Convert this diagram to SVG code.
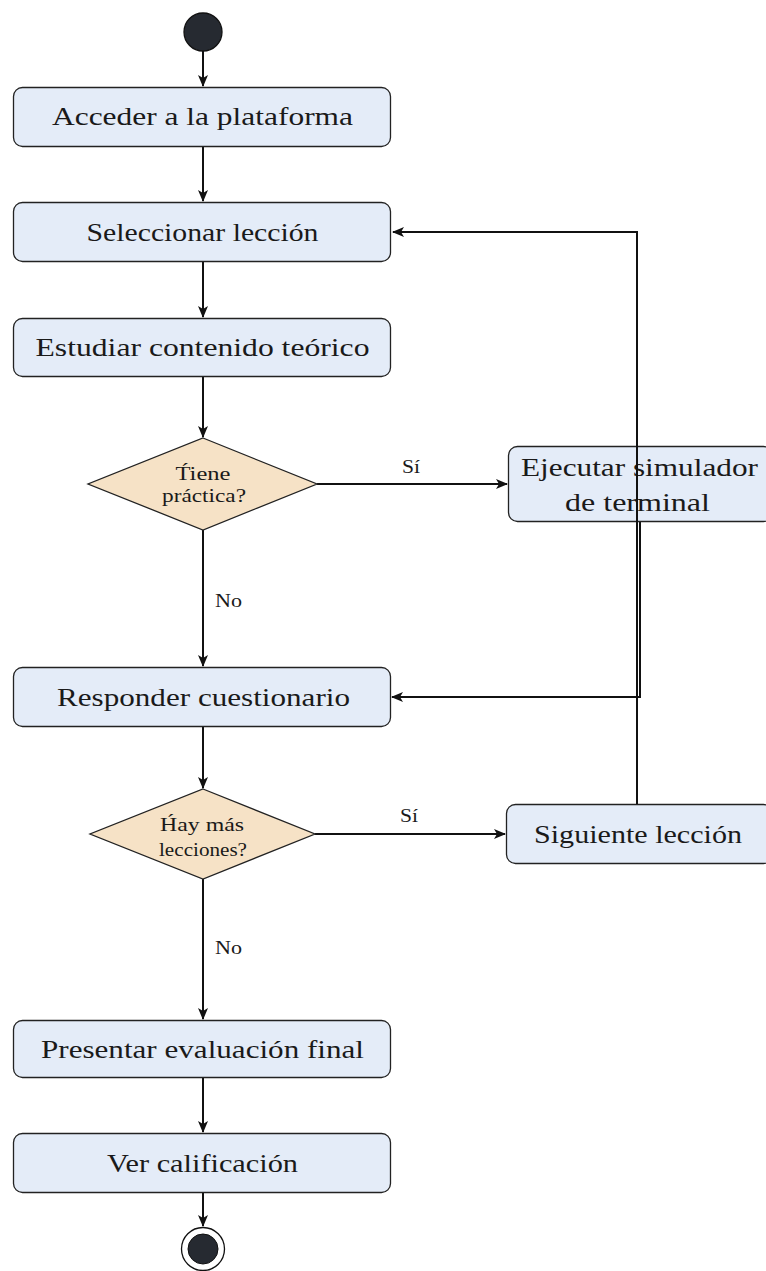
<svg xmlns="http://www.w3.org/2000/svg" width="766" height="1271" viewBox="0 0 766 1271">
<style>
.box{fill:#e4ecf8;stroke:#222;stroke-width:1.3}
.dia{fill:#f6e2c6;stroke:#222;stroke-width:1.3}
.t{font-family:"Liberation Serif","DejaVu Serif",serif;font-size:26px;fill:#1a1a1a;text-anchor:middle}
.ts{font-family:"Liberation Serif","DejaVu Serif",serif;font-size:19px;fill:#1a1a1a;text-anchor:middle}
.tl{font-family:"Liberation Serif","DejaVu Serif",serif;font-size:18px;fill:#1a1a1a}
.c{fill:none;stroke:#111;stroke-width:2}
</style>
<defs>
<marker id="a" viewBox="0 0 12 10" refX="11" refY="5" markerWidth="12" markerHeight="10" markerUnits="userSpaceOnUse" orient="auto">
<path d="M0,0 L12,5 L0,10 L3,5 Z" fill="#111"/>
</marker>
</defs>
<g id="connectors">
<line class="c" x1="203" y1="51" x2="203" y2="86" marker-end="url(#a)"/>
<line class="c" x1="203" y1="147" x2="203" y2="201" marker-end="url(#a)"/>
<line class="c" x1="203" y1="262" x2="203" y2="317" marker-end="url(#a)"/>
<line class="c" x1="203" y1="377" x2="203" y2="437" marker-end="url(#a)"/>
<line class="c" x1="317" y1="484" x2="507" y2="484" marker-end="url(#a)"/>
<line class="c" x1="203" y1="530" x2="203" y2="666" marker-end="url(#a)"/>
<polyline class="c" points="640,522 640,697 392,697" marker-end="url(#a)"/>
<line class="c" x1="203" y1="727" x2="203" y2="788" marker-end="url(#a)"/>
<line class="c" x1="315" y1="834" x2="505" y2="834" marker-end="url(#a)"/>
<line class="c" x1="203" y1="879" x2="203" y2="1019" marker-end="url(#a)"/>
<line class="c" x1="203" y1="1078" x2="203" y2="1132" marker-end="url(#a)"/>
<line class="c" x1="203" y1="1193" x2="203" y2="1226" marker-end="url(#a)"/>
<text class="tl" x="402" y="473" textLength="18" lengthAdjust="spacingAndGlyphs">Sí</text>
<text class="tl" x="215" y="607" textLength="27" lengthAdjust="spacingAndGlyphs">No</text>
<text class="tl" x="400" y="822" textLength="18" lengthAdjust="spacingAndGlyphs">Sí</text>
<text class="tl" x="215" y="954" textLength="27" lengthAdjust="spacingAndGlyphs">No</text>
</g>
<g id="start"><circle cx="203" cy="32" r="19" fill="#262a31" stroke="#111" stroke-width="1.3"/></g>
<g id="n1"><rect class="box" x="13.5" y="87.5" width="377" height="59" rx="9"/><text class="t" x="202.5" y="125" textLength="301" lengthAdjust="spacingAndGlyphs">Acceder a la plataforma</text></g>
<g id="n2"><rect class="box" x="13.5" y="202.5" width="377" height="59" rx="9"/><text class="t" x="202.5" y="241" textLength="232" lengthAdjust="spacingAndGlyphs">Seleccionar lección</text></g>
<g id="n3"><rect class="box" x="13.5" y="318.5" width="377" height="58" rx="9"/><text class="t" x="202.5" y="356" textLength="334" lengthAdjust="spacingAndGlyphs">Estudiar contenido teórico</text></g>
<g id="d1"><polygon class="dia" points="203,438 317,484 203,530 88,484"/><text class="ts" x="203" y="480" textLength="55" lengthAdjust="spacingAndGlyphs">T&#769;iene</text><text class="ts" x="204" y="502" textLength="84" lengthAdjust="spacingAndGlyphs">práctica?</text></g>
<g id="n4"><rect class="box" x="508.5" y="446.5" width="264" height="75" rx="9"/><text class="t" x="639.5" y="476" textLength="237" lengthAdjust="spacingAndGlyphs">Ejecutar simulador</text><text class="t" x="637.5" y="511" textLength="145" lengthAdjust="spacingAndGlyphs">de terminal</text></g>
<g id="n5"><rect class="box" x="13.5" y="667.5" width="377" height="59" rx="9"/><text class="t" x="203.5" y="706" textLength="293" lengthAdjust="spacingAndGlyphs">Responder cuestionario</text></g>
<g id="d2"><polygon class="dia" points="203,789 315,834 203,879 90,834"/><text class="ts" x="202" y="831" textLength="84" lengthAdjust="spacingAndGlyphs">H&#769;ay más</text><text class="ts" x="203" y="856" textLength="88" lengthAdjust="spacingAndGlyphs">lecciones?</text></g>
<g id="n6"><rect class="box" x="506.5" y="804.5" width="266" height="59" rx="9"/><text class="t" x="638" y="843" textLength="208" lengthAdjust="spacingAndGlyphs">Siguiente lección</text></g>
<g id="n7"><rect class="box" x="13.5" y="1020.5" width="377" height="57" rx="9"/><text class="t" x="202.5" y="1058" textLength="323" lengthAdjust="spacingAndGlyphs">Presentar evaluación final</text></g>
<g id="n8"><rect class="box" x="13.5" y="1133.5" width="377" height="59" rx="9"/><text class="t" x="202.5" y="1172" textLength="191" lengthAdjust="spacingAndGlyphs">Ver calificación</text></g>
<g id="loop"><polyline class="c" points="637,804 637,232 393,232" marker-end="url(#a)"/></g>
<g id="end"><circle cx="203" cy="1249" r="21.5" fill="#fff" stroke="#111" stroke-width="1.3"/><circle cx="203" cy="1249" r="15" fill="#262a31" stroke="#111" stroke-width="1"/></g>
</svg>
